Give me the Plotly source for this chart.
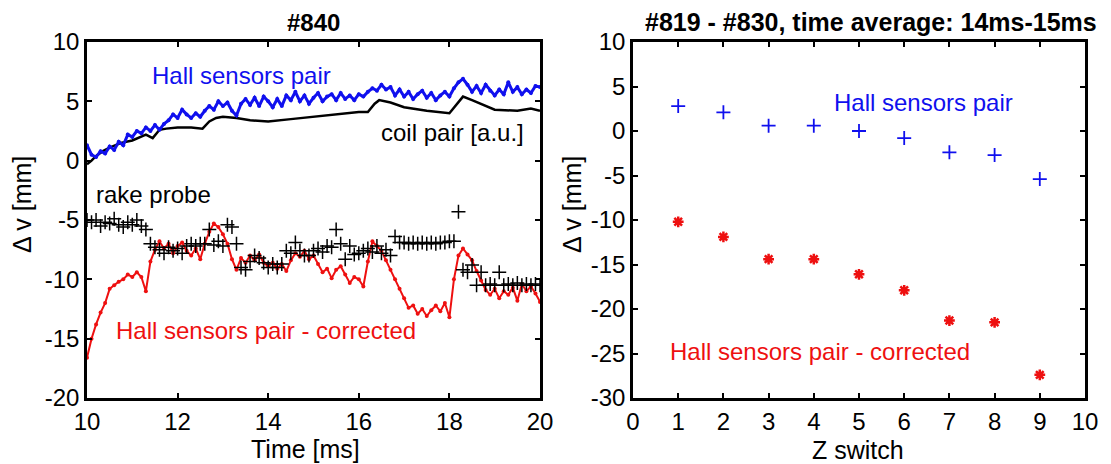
import numpy as np
import plotly.graph_objects as go

# ---------------- data: left panel (#840) ----------------
t = [round(10 + 0.1 * i, 1) for i in range(101)]

hall_pair = [1.3, 0.5, 0.3, 0.8, 0.6, 1.2, 0.9, 1.6, 1.3, 2.2,
             2.0, 2.5, 2.3, 2.8, 2.5, 3.0, 2.6, 3.1, 3.4, 3.9,
             3.6, 4.3, 3.9, 3.6, 4.0, 3.7, 4.2, 4.6, 4.3, 5.0,
             4.6, 4.9, 4.2, 3.8, 4.8, 5.2, 4.7, 5.3, 4.6, 5.4,
             5.0, 4.5, 5.2, 4.6, 5.5, 5.1, 5.8, 5.0, 5.5, 4.8,
             5.3, 5.7, 5.0, 5.4, 5.6, 5.1, 5.7, 5.2, 5.5, 5.1,
             5.6, 5.4, 5.8, 6.1, 5.9, 6.4, 6.0, 6.2, 5.5, 6.0,
             5.4, 5.8, 5.2, 5.6, 5.9, 5.3, 5.7, 5.1, 5.5, 5.8,
             5.4, 6.1, 6.6, 6.9, 6.4, 5.8, 6.3, 5.7, 6.4, 5.9,
             5.5, 6.0, 5.6, 6.6, 5.8, 6.2, 5.6, 6.0, 5.7, 6.3,
             6.2]

hall_corrected = [-16.6, -15.0, -13.8, -12.8, -12.0, -10.8, -10.5, -10.2, -10.0, -9.6,
                  -9.8, -9.4, -9.8, -11.0, -8.5, -7.5, -6.8, -7.4, -7.0, -7.8,
                  -7.2, -6.9, -7.6, -8.0, -7.4, -8.3, -7.0, -6.0, -5.3, -5.6,
                  -6.2, -7.0, -8.3, -9.2, -8.2, -8.6, -8.0, -8.4, -7.9, -8.6,
                  -8.9, -8.6, -9.1, -8.7, -9.3, -8.4, -7.8, -8.1, -7.6, -8.3,
                  -8.0, -8.7, -9.4, -9.1, -9.9, -9.2, -8.9, -9.6, -10.3, -9.8,
                  -10.0, -10.6, -8.5, -6.8, -7.2, -7.6, -8.4, -9.2, -10.0, -10.8,
                  -11.6, -12.4, -12.2, -12.9, -12.5, -13.1, -12.6, -12.2, -12.7, -12.0,
                  -13.2, -10.0, -8.0, -7.4, -7.9, -8.4, -9.3, -10.1, -10.9, -11.3,
                  -10.8, -11.6, -11.0, -11.3, -10.7, -11.8, -10.4, -11.0, -10.6, -11.2,
                  -11.9]

rake_probe = [-5.0, -5.2, -5.0, -5.5, -5.2, -5.3, -4.9, -5.4, -5.6, -5.2,
              -5.4, -5.0, -5.5, -5.8, -7.0, -7.3, -7.5, -7.8, -7.3, -7.6,
              -7.4, -7.8, -7.2, -7.0, -7.2, -7.0, -7.0, -5.8, -7.1, -6.8,
              -7.2, -5.4, -5.6, -7.0, -9.0, -9.2, -8.5, -8.0, -8.2, -8.6,
              -9.0, -8.7, -9.0, -8.7, -7.6, -7.8, -6.9, -7.6, -8.0, -8.0,
              -7.6, -7.4, -7.7, -7.2, -7.3, -5.8, -7.0, -8.3, -7.2, -7.9,
              -7.8, -7.6, -7.4, -7.7, -7.2, -7.8, -7.5, -8.0, -6.4, -6.9,
              -6.9, -7.0, -6.9, -7.0, -6.9, -7.0, -6.9, -7.0, -6.9, -6.9,
              -6.8, -6.8, -4.3, -9.2, -9.4, -8.8, -10.5, -9.4, -10.5, -10.4,
              -10.5, -9.4, -10.5, -10.4, -10.5, -10.3, -10.5, -10.4, -10.5, -10.4,
              -10.5]

coil_t = [10.0, 10.1, 10.2, 10.35, 10.5, 10.75, 11.0, 11.3, 11.45, 11.6, 11.75, 12.0,
          12.3, 12.55, 12.7, 12.85, 13.0, 13.3, 13.6, 14.0, 14.5, 15.0, 15.5,
          16.0, 16.2, 16.35, 16.45, 16.7, 17.0, 17.5, 18.0, 18.15, 18.3, 18.5,
          18.8, 19.0, 19.5, 19.8, 20.0]
coil_v = [-0.3, 0.0, 0.4, 0.8, 1.1, 1.5, 1.7, 2.2, 1.9, 2.6, 2.7, 2.8,
          2.8, 2.7, 3.3, 3.6, 3.7, 3.6, 3.4, 3.3, 3.5, 3.7, 3.9,
          4.1, 4.1, 4.8, 5.1, 4.9, 4.5, 4.2, 4.0, 4.7, 5.4, 5.1,
          4.6, 4.3, 4.2, 4.4, 4.2]

# ---------------- data: right panel (#819 - #830) ----------------
z_switch = [1, 2, 3, 4, 5, 6, 7, 8, 9]
avg_hall = [2.8, 2.1, 0.6, 0.6, 0.0, -0.8, -2.4, -2.7, -5.4]
avg_corrected = [-10.2, -11.9, -14.4, -14.4, -16.1, -17.9, -21.3, -21.5, -27.4]

left_xticks = [10, 12, 14, 16, 18, 20]
left_yticks = [-20, -15, -10, -5, 0, 5, 10]
right_xticks = list(range(0, 11))
right_yticks = [-30, -25, -20, -15, -10, -5, 0, 5, 10]

# ---------------- figure ----------------
W, H = 1111, 464
FONT = "Liberation Sans, Arial, sans-serif"
BLUE = "#1010ee"
RED = "#ee1010"

def px(x):
    return x / W

def py(y):
    return 1 - y / H

fig = go.Figure()

fig.add_trace(go.Scatter(x=coil_t, y=coil_v, mode="lines",
                         line=dict(color="black", width=2.5), xaxis="x", yaxis="y"))
fig.add_trace(go.Scatter(x=t, y=hall_pair, mode="lines+markers",
                         line=dict(color=BLUE, width=3),
                         marker=dict(color=BLUE, size=4), xaxis="x", yaxis="y"))
fig.add_trace(go.Scatter(x=t, y=hall_corrected, mode="lines+markers",
                         line=dict(color=RED, width=2),
                         marker=dict(color=RED, size=4), xaxis="x", yaxis="y"))
fig.add_trace(go.Scatter(x=t, y=rake_probe, mode="markers",
                         marker=dict(symbol="cross-thin-open", size=10, color="black",
                                     line=dict(color="black", width=1.5)),
                         xaxis="x", yaxis="y"))

fig.add_trace(go.Scatter(x=z_switch, y=avg_hall, mode="markers",
                         marker=dict(symbol="cross-thin-open", size=10, color=BLUE,
                                     line=dict(color=BLUE, width=1.8)),
                         xaxis="x2", yaxis="y2"))
fig.add_trace(go.Scatter(x=z_switch, y=avg_corrected, mode="markers",
                         marker=dict(symbol="asterisk-open", size=9, color=RED,
                                     line=dict(color=RED, width=2.5)),
                         xaxis="x2", yaxis="y2"))

axis_common = dict(showgrid=False, zeroline=False, showline=True, linecolor="black",
                   linewidth=2.5, mirror="allticks", ticks="inside", ticklen=5,
                   tickwidth=2, tickcolor="black", automargin=False,
                   tickfont=dict(family=FONT, size=24, color="black"))

ydom = [py(398), py(42)]
fig.update_layout(
    template="none",
    width=W, height=H, margin=dict(l=0, r=0, t=0, b=0, pad=0),
    paper_bgcolor="white", plot_bgcolor="white", showlegend=False,
    font=dict(family=FONT, color="black"),
    xaxis=dict(domain=[px(87), px(540)], range=[10, 20], tickvals=left_xticks,
               anchor="y", **axis_common),
    yaxis=dict(domain=ydom, range=[-20, 10], tickvals=left_yticks,
               ticktext=[str(v) for v in left_yticks], anchor="x", **axis_common),
    xaxis2=dict(domain=[px(633), px(1085)], range=[0, 10], tickvals=right_xticks,
                anchor="y2", **axis_common),
    yaxis2=dict(domain=ydom, range=[-30, 10], tickvals=right_yticks,
                ticktext=[str(v) for v in right_yticks], anchor="x2", **axis_common),
)

ann = []

def paper_text(text, x, y, size, angle=0):
    ann.append(dict(text=text, x=px(x), y=py(y), xref="paper", yref="paper",
                    xanchor="center", yanchor="middle", textangle=angle,
                    showarrow=False, font=dict(size=size, family=FONT, color="black")))

def data_text(text, x, y, axis, anchor, color, size=24):
    ann.append(dict(text=text, x=x, y=y, xref="x" + axis, yref="y" + axis,
                    xanchor=anchor, yanchor="middle", showarrow=False,
                    font=dict(size=size, family=FONT, color=color)))

# titles
paper_text("<b>#840</b>", 313, 23, 24)
paper_text("<b>#819 - #830, time average: 14ms-15ms</b>", 871, 22, 25)
# axis titles
paper_text("Time [ms]", 305, 449, 25)
paper_text("Z switch", 858, 450, 25)
paper_text("Δ v [mm]", 22, 205, 25, -90)
paper_text("Δ v [mm]", 572, 205, 25, -90)
# in-plot labels, left
data_text("Hall sensors pair", 11.4, 7.2, "", "left", BLUE)
data_text("coil pair [a.u.]", 19.7, 2.4, "", "right", "black")
data_text("rake probe", 10.15, -2.85, "", "left", "black")
data_text("Hall sensors pair - corrected", 10.6, -14.3, "", "left", RED)
# in-plot labels, right
data_text("Hall sensors pair", 4.4, 3.2, "2", "left", BLUE)
data_text("Hall sensors pair - corrected", 0.77, -24.8, "2", "left", RED)
fig.update_layout(annotations=ann)

fig.write_html("out.html")
